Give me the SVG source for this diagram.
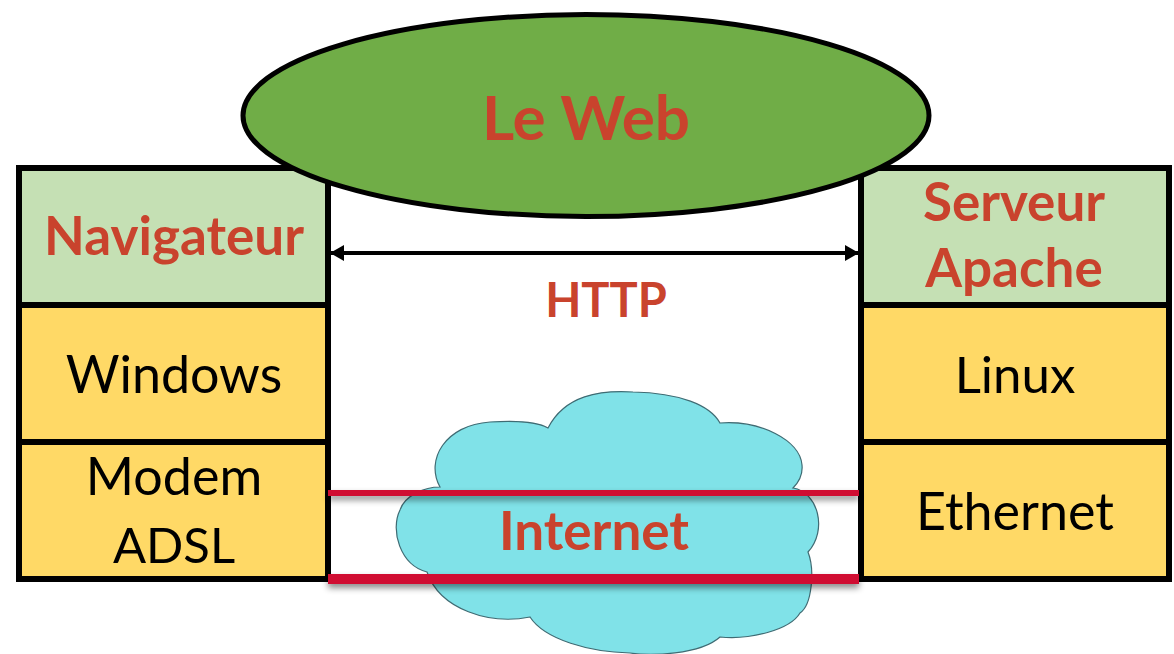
<svg xmlns="http://www.w3.org/2000/svg" width="1174" height="654" viewBox="0 0 1174 654">
<style>
.box{stroke:#000;stroke-width:6}
.top{fill:#C5E0B4}
.mid{fill:#FFD966}
.t{font-family:Lato,"Liberation Sans",sans-serif;text-anchor:middle}
.red{fill:#C9432D;font-weight:bold}
.blk{fill:#000}
.bar{fill:#D01030}
</style>
<defs>
<marker id="ah" viewBox="0 0 14 16" refX="13" refY="8" markerWidth="14" markerHeight="16" markerUnits="userSpaceOnUse" orient="auto-start-reverse">
<path d="M0,0 L14,8 L0,16 Z" fill="#000"/>
</marker>
<filter id="sh" filterUnits="userSpaceOnUse" x="300" y="470" width="590" height="140">
<feDropShadow dx="0" dy="4" stdDeviation="3" flood-color="#000" flood-opacity="0.45"/>
</filter>
</defs>
<rect width="1174" height="654" fill="#fff"/>
<g id="navigateur"><rect class="box top" x="19" y="168" width="309" height="137"/><text class="t red" x="174" y="255" font-size="53">Navigateur</text></g>
<g id="windows"><rect class="box mid" x="19" y="305" width="309" height="137"/><text class="t blk" x="174" y="393" font-size="52">Windows</text></g>
<g id="modem"><rect class="box mid" x="19" y="442" width="309" height="137"/><text class="t blk" x="174" y="495" font-size="52">Modem</text><text class="t blk" x="174" y="563" font-size="49">ADSL</text></g>
<g id="serveur"><rect class="box top" x="861" y="168" width="308" height="137"/><text class="t red" x="1014" y="221" font-size="53">Serveur</text><text class="t red" x="1014" y="287" font-size="53">Apache</text></g>
<g id="linux"><rect class="box mid" x="861" y="305" width="308" height="137"/><text class="t blk" x="1015" y="393" font-size="51">Linux</text></g>
<g id="ethernet"><rect class="box mid" x="861" y="442" width="308" height="137"/><text class="t blk" x="1015" y="530" font-size="52">Ethernet</text></g>
<g id="web"><ellipse cx="586" cy="115.5" rx="343" ry="101" fill="#70AD47" stroke="#000" stroke-width="5"/><text class="t red" x="586" y="140" font-size="62">Le Web</text></g>
<g id="internet"><path d="M440 487 C425 460,445 425,490 422 C520 420,540 423,548 428 C565 395,600 390,633 392 C680 393,710 405,720 423 C760 420,800 440,802 465 C803 475,798 483,793 488 C818 492,828 530,808 552 C815 570,812 605,800 613 C790 630,750 640,720 637 C700 655,650 656,630 653 C590 652,545 640,530 617 C490 625,440 610,427 572 C400 565,390 530,400 510 C405 495,425 487,440 487 Z" fill="#80E2E8" stroke="#3F6B73" stroke-width="1.2"/><text class="t red" x="594" y="550" font-size="53">Internet</text></g>
<g id="connectors">
<line x1="331" y1="253" x2="858" y2="253" stroke="#000" stroke-width="4" marker-start="url(#ah)" marker-end="url(#ah)"/>
<text class="t red" x="606" y="317" font-size="47">HTTP</text>
<rect class="bar" x="328" y="490" width="531" height="6" filter="url(#sh)"/>
<rect class="bar" x="328" y="574" width="531" height="10" filter="url(#sh)"/>
</g>
</svg>
